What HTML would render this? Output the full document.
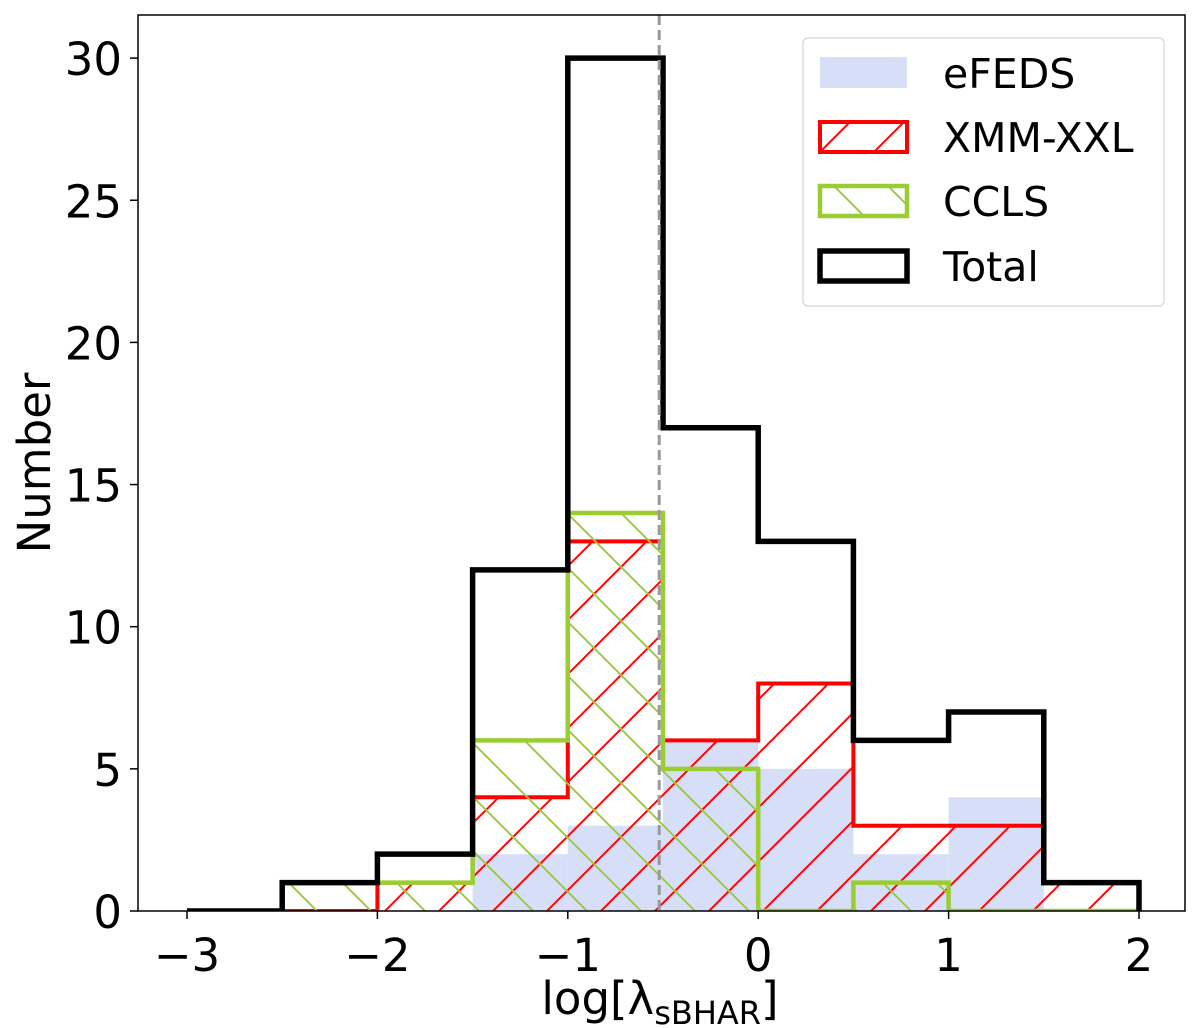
<!DOCTYPE html>
<html><head><meta charset="utf-8"><style>
html,body{margin:0;padding:0;background:#fff;}
svg{display:block;font-family:"DejaVu Sans","Liberation Sans",sans-serif;}
</style></head><body>
<svg id="chart" width="1200" height="1028" viewBox="0 0 1200 1028">
<defs>
<pattern id="hatchRed" patternUnits="userSpaceOnUse" width="54" height="54">
<path d="M-13,13 L13,-13 M0,54 L54,0 M41,67 L67,41" stroke="#ff0000" stroke-width="1.9"/>
</pattern>
<pattern id="hatchGreen" patternUnits="userSpaceOnUse" width="54" height="54">
<path d="M-13,41 L13,67 M0,0 L54,54 M41,-13 L67,13" stroke="#9acd32" stroke-width="1.9"/>
</pattern>
<clipPath id="plotClip"><rect x="138" y="15" width="1047" height="896"/></clipPath>
</defs>
<rect x="0" y="0" width="1200" height="1028" fill="#fff"/>
<g id="marks" clip-path="url(#plotClip)"></g>
<g id="axes"></g>
</svg>
<script>
const binEdges = [-3, -2.5, -2, -1.5, -1, -0.5, 0, 0.5, 1, 1.5, 2];
const efeds = [0, 0, 0, 2, 3, 6, 5, 2, 4, 0];
const xmm = [0, 0, 1, 4, 13, 6, 8, 3, 3, 1];
const ccls = [0, 1, 1, 6, 14, 5, 0, 1, 0, 0];
const total = [0, 1, 2, 12, 30, 17, 13, 6, 7, 1];
const xTicks = [-3, -2, -1, 0, 1, 2];
const xTickLabels = ["\u22123", "\u22122", "\u22121", "0", "1", "2"];
const yTicks = [0, 5, 10, 15, 20, 25, 30];
const yTickLabels = ["0", "5", "10", "15", "20", "25", "30"];
const dashedX = -0.52;

const NS = "http://www.w3.org/2000/svg";
const L = 138, R = 1185, T = 15, B = 911;
function xs(v){ return 187 + (v + 3) * 190.4; }
function ys(v){ return 911 - v * 28.43; }
function mk(tag, attrs, parent){ const e = document.createElementNS(NS, tag); for (const k in attrs) e.setAttribute(k, attrs[k]); parent.appendChild(e); return e; }
const marks = document.getElementById('marks');
const axes = document.getElementById('axes');

function stepPath(vals, closed){
  let d = "M" + xs(binEdges[0]) + "," + ys(0);
  for (let i = 0; i < vals.length; i++){
    d += " L" + xs(binEdges[i]) + "," + ys(vals[i]) + " L" + xs(binEdges[i+1]) + "," + ys(vals[i]);
  }
  d += " L" + xs(binEdges[binEdges.length-1]) + "," + ys(0);
  if (closed) d += " Z";
  return d;
}

for (let i = 0; i < efeds.length; i++){
  if (efeds[i] <= 0) continue;
  const r = mk('rect', {x: xs(binEdges[i]), y: ys(efeds[i]), width: xs(binEdges[i+1]) - xs(binEdges[i]), height: ys(0) - ys(efeds[i]), fill: '#d6dff7'}, marks);
  
  
}
let p = mk('path', {d: stepPath(xmm, true), fill: 'url(#hatchRed)', stroke: 'none'}, marks);


p = mk('path', {d: stepPath(xmm, false), fill: 'none', stroke: '#ff0000', 'stroke-width': 4}, marks);


p = mk('path', {d: stepPath(ccls, true), fill: 'url(#hatchGreen)', stroke: 'none'}, marks);


p = mk('path', {d: stepPath(ccls, false), fill: 'none', stroke: '#9acd32', 'stroke-width': 4.5}, marks);


p = mk('path', {d: stepPath(total, false), fill: 'none', stroke: '#000', 'stroke-width': 5.5}, marks);


p = mk('line', {x1: xs(dashedX), x2: xs(dashedX), y1: T, y2: B, stroke: '#999', 'stroke-width': 3, 'stroke-dasharray': '10,5'}, marks);



p = mk('rect', {x: L, y: T, width: R - L, height: B - T, fill: 'none', stroke: '#000', 'stroke-width': 1.5}, axes);


xTicks.forEach((v, i) => {
  const t = mk('line', {x1: xs(v), x2: xs(v), y1: B, y2: B + 8, stroke: '#000', 'stroke-width': 1.5}, axes);
  
  
  const tx = mk('text', {x: xs(v), y: 971, 'font-size': 45, 'text-anchor': 'middle', fill: '#000'}, axes);
  tx.textContent = xTickLabels[i];
  
  
});
yTicks.forEach((v, i) => {
  const t = mk('line', {x1: L - 8, x2: L, y1: ys(v), y2: ys(v), stroke: '#000', 'stroke-width': 1.5}, axes);
  
  
  const tx = mk('text', {x: 122, y: ys(v) + 17, 'font-size': 45, 'text-anchor': 'end', fill: '#000'}, axes);
  tx.textContent = yTickLabels[i];
  
  
});
</script>
<svg style="position:absolute;left:0;top:0" width="1200" height="1028">
<text x="660" y="1014" font-size="45" text-anchor="middle" font-family="DejaVu Sans, Liberation Sans, sans-serif">log[λ<tspan font-size="32" dy="10">sBHAR</tspan><tspan dy="-10">]</tspan></text>
<text transform="translate(50,463) rotate(-90)" font-size="45" text-anchor="middle" font-family="DejaVu Sans, Liberation Sans, sans-serif">Number</text>
<g font-family="DejaVu Sans, Liberation Sans, sans-serif" font-size="41">
<rect x="803" y="38" width="361" height="268" rx="5" fill="#fff" fill-opacity="0.85" stroke="#ddd" stroke-width="1.5"/>
<g><rect x="820" y="57" width="87" height="31" fill="#d6dff7"/><text x="943" y="88">eFEDS</text></g>
<g><rect x="820" y="122" width="87" height="30" fill="url(#hatchRed)" stroke="#ff0000" stroke-width="4"/><text x="943" y="152">XMM-XXL</text></g>
<g><rect x="820" y="186" width="87" height="30" fill="url(#hatchGreen)" stroke="#9acd32" stroke-width="4.5"/><text x="943" y="216">CCLS</text></g>
<g><rect x="820" y="251" width="87" height="30" fill="none" stroke="#000" stroke-width="5.5"/><text x="943" y="281">Total</text></g>
</g>
</svg>
</body></html>
